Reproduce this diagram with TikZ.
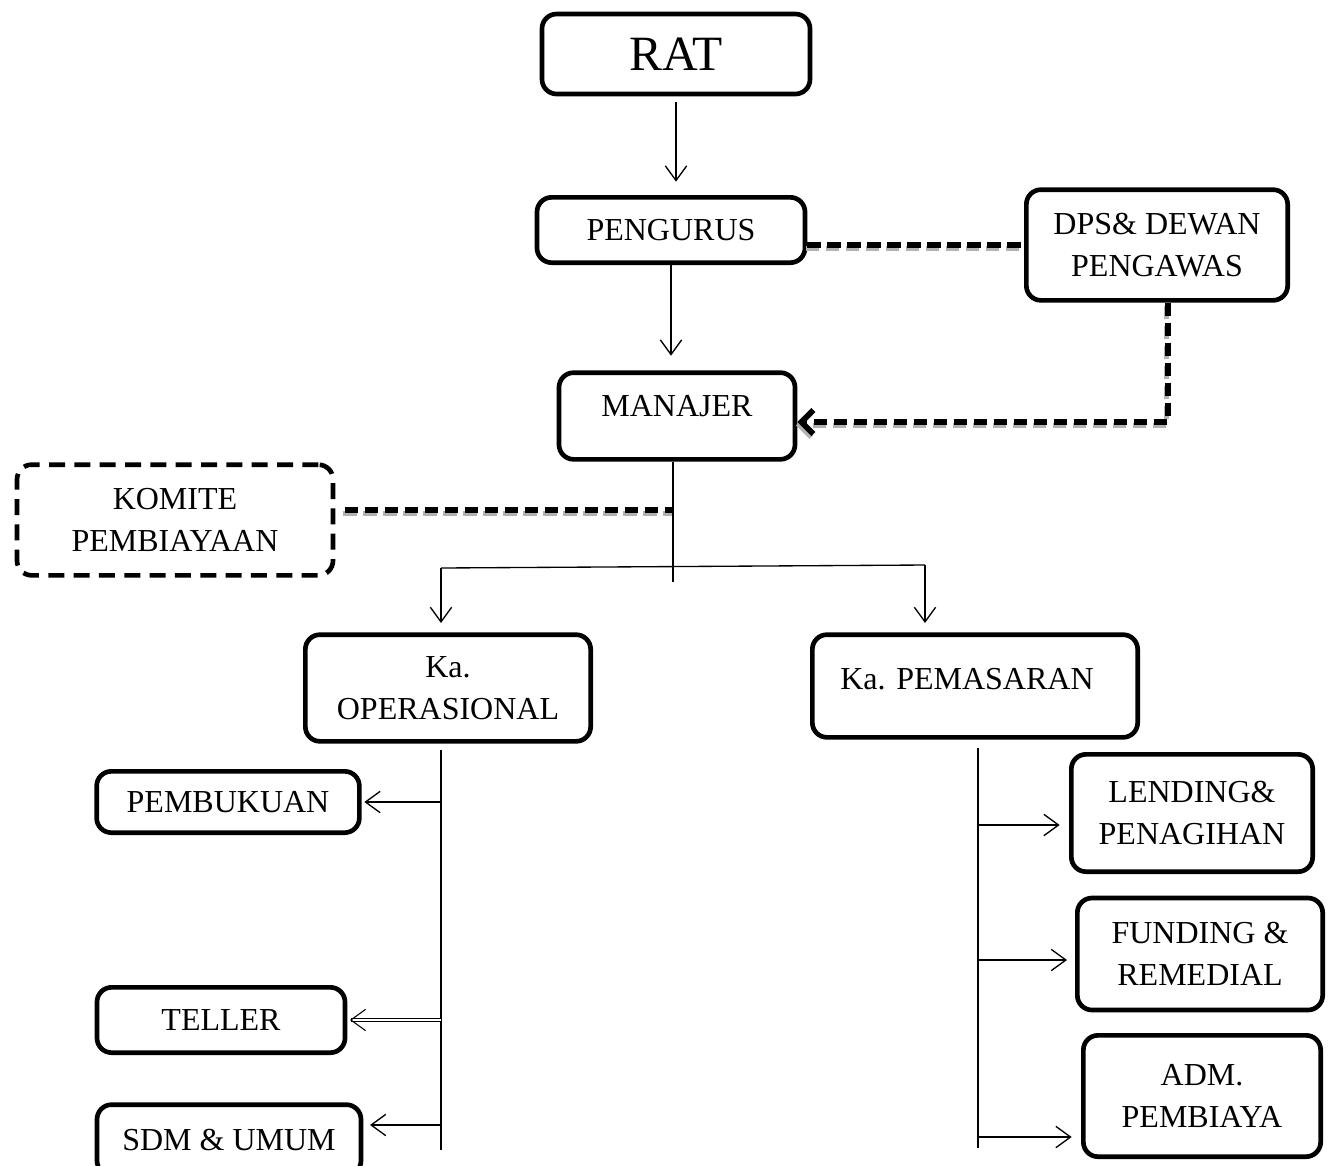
\documentclass[tikz,border=0pt]{standalone}
\usepackage{fontspec}
\setmainfont{Liberation Serif}
\usetikzlibrary{arrows.meta}

\begin{document}
\begin{tikzpicture}[x=0.75pt, y=-0.75pt,
    box/.style={rectangle, rounded corners=11pt, draw, line width=3.5pt, inner sep=0pt, align=center, font=\fontsize{24}{32}\selectfont},
    dbox/.style={box, dash pattern=on 12pt off 7pt},
    link/.style={line width=1pt},
    arr/.style={link, -{Straight Barb[length=11pt,width=16pt]}},
    dashlink/.style={line width=4.2pt, dash pattern=on 10pt off 5pt, preaction={draw=gray!60, line width=3.5pt, dash pattern=on 10pt off 5pt, transform canvas={shift={(-1pt,-2.5pt)}}}}
  ]
    \useasboundingbox (0,0) rectangle (1335,1165);

    \node[box, minimum width=201pt, minimum height=60pt, font=\fontsize{37}{40}\selectfont] (rat) at (676,54) {RAT};
    \node[box, minimum width=201pt, minimum height=49pt] (pengurus) at (671,230) {PENGURUS};
    \node[box, minimum width=196pt, minimum height=83pt] (dps) at (1157,245) {DPS\& DEWAN\\PENGAWAS};
    \node[box, minimum width=177pt, minimum height=65pt, text depth=15pt] (manajer) at (677,416) {MANAJER};
    \node[dbox, minimum width=237pt, minimum height=83pt] (komite) at (175,520) {KOMITE\\PEMBIAYAAN};
    \node[box, minimum width=214pt, minimum height=80pt] (ops) at (448,688) {Ka.\\OPERASIONAL};
    \node[box, minimum width=244pt, minimum height=77pt, text depth=11pt, text width=202pt, align=left] (pemasaran) at (975,686) {Ka.\ PEMASARAN};
    \node[box, minimum width=197pt, minimum height=46pt] (pembukuan) at (228,802) {PEMBUKUAN};
    \node[box, minimum width=186pt, minimum height=49pt] (teller) at (221,1020) {TELLER};
    \node[box, minimum width=198pt, minimum height=53pt] (sdm) at (229,1140) {SDM \& UMUM};
    \node[box, minimum width=181pt, minimum height=88pt] (lending) at (1192,813) {LENDING\&\\PENAGIHAN};
    \node[box, minimum width=184pt, minimum height=84pt] (funding) at (1200,954) {FUNDING \&\\REMEDIAL};
    \node[box, minimum width=178pt, minimum height=91pt] (adm) at (1202,1096) {ADM.\\PEMBIAYA};

    \coordinate (dpsbend) at (1168,422);
    \coordinate (mbot) at (673,582);
    \coordinate (kjoin) at (673,510);
    \coordinate (bl) at (441,568);
    \coordinate (br) at (925,565);
    \coordinate (ltop) at (441,750);
    \coordinate (lbot) at (441,1150);
    \coordinate (tsdm) at (441,1125);
    \coordinate (rtop) at (978,748);
    \coordinate (rbot) at (978,1148);
    \coordinate (tlend) at (978,825);
    \coordinate (tfund) at (978,960);
    \coordinate (tadm) at (978,1137);

    \draw[arr, shorten <=4pt, shorten >=10pt] (rat.south) -- (rat.south |- pengurus.north);
    \draw[arr, shorten >=11pt] (pengurus.south) -- (pengurus.south |- manajer.north);
    \draw[dashlink] (pengurus.east |- dps.west) -- (dps.west);
    \draw[dashlink, -{Straight Barb[length=9pt,width=18pt]}] (dps.south -| dpsbend) -- (dpsbend) -- (manajer.east |- dpsbend);
    \draw[link] (manajer.south -| mbot) -- (mbot);
    \draw[dashlink, shorten <=7pt] (kjoin -| komite.east) -- (kjoin);
    \draw[link] (bl) -- (br);
    \draw[arr, shorten >=7pt] (bl) -- (bl |- ops.north);
    \draw[arr, shorten >=7pt] (br) -- (br |- pemasaran.north);

    \draw[link] (ltop) -- (lbot);
    \draw[arr, shorten >=2pt] (ltop |- pembukuan) -- (pembukuan.east);
    \draw[arr, double, line width=0.8pt, double distance=2pt, shorten >=2pt] (ltop |- teller) -- (teller.east);
    \draw[arr, shorten >=5pt] (tsdm) -- (tsdm -| sdm.east);

    \draw[link] (rtop) -- (rbot);
    \draw[arr, shorten >=7pt] (tlend) -- (tlend -| lending.west);
    \draw[arr, shorten >=6pt] (tfund) -- (tfund -| funding.west);
    \draw[arr, shorten >=7pt] (tadm) -- (tadm -| adm.west);
\end{tikzpicture}
\end{document}
